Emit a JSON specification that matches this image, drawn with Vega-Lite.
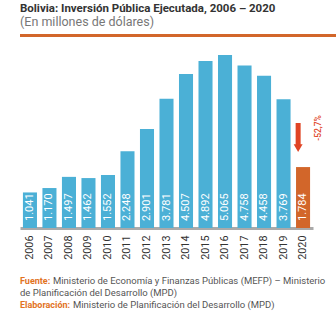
{
  "$schema": "https://vega.github.io/schema/vega-lite/v6.json",
  "padding": {"left": 5, "top": 3, "right": 1, "bottom": 0},
  "background": "white",
  "config": {
    "view": {"stroke": null},
    "font": "Roboto",
    "locale": {"number": {"decimal": ",", "thousands": ".", "grouping": [3], "currency": ["", ""]}},
    "concat": {"spacing": 9}
  },
  "datasets": {
    "inv": [
      {"year": "2006", "value": 1041, "tipo": "a"},
      {"year": "2007", "value": 1170, "tipo": "a"},
      {"year": "2008", "value": 1497, "tipo": "a"},
      {"year": "2009", "value": 1462, "tipo": "a"},
      {"year": "2010", "value": 1552, "tipo": "a"},
      {"year": "2011", "value": 2248, "tipo": "a"},
      {"year": "2012", "value": 2901, "tipo": "a"},
      {"year": "2013", "value": 3781, "tipo": "a"},
      {"year": "2014", "value": 4507, "tipo": "a"},
      {"year": "2015", "value": 4892, "tipo": "a"},
      {"year": "2016", "value": 5065, "tipo": "a"},
      {"year": "2017", "value": 4758, "tipo": "a"},
      {"year": "2018", "value": 4458, "tipo": "a"},
      {"year": "2019", "value": 3769, "tipo": "a"},
      {"year": "2020", "value": 1784, "tipo": "b"}
    ],
    "arrow": [{"year": "2020", "from": 3074, "to": 2420, "head": 2340, "labelpos": 2928, "label": "-52,7%"}],
    "footer": [
      {"line": 1, "label": "Fuente:", "text": "Ministerio de Economía y Finanzas Públicas (MEFP) – Ministerio"},
      {"line": 2, "label": "", "text": "de Planificación del Desarrollo (MPD)"},
      {"line": 3, "label": "Elaboración:", "text": "Ministerio de Planificación del Desarrollo (MPD)"}
    ]
  },
  "vconcat": [
    {
      "title": {
        "text": "Bolivia: Inversión Pública Ejecutada, 2006 – 2020",
        "subtitle": "(En millones de dólares)",
        "anchor": "start",
        "fontSize": 11.5,
        "fontWeight": "bold",
        "color": "#333333",
        "subtitleFontSize": 12.5,
        "subtitleColor": "#777777",
        "subtitlePadding": 1,
        "offset": 4.5
      },
      "width": 330,
      "height": 3,
      "view": {"fill": "#d2662a", "stroke": null},
      "data": {"values": [{"a": 1}]},
      "mark": {"type": "point", "opacity": 0},
      "encoding": {}
    },
    {
      "width": 293,
      "height": 180,
      "data": {"name": "inv"},
      "encoding": {
        "x": {
          "field": "year",
          "type": "ordinal",
          "scale": {"paddingInner": 0.28, "paddingOuter": 0.15},
          "axis": {
            "title": null,
            "labelAngle": -90,
            "labelAlign": "right",
            "labelBaseline": "middle",
            "labelPadding": 7,
            "labelFontSize": 10.8,
            "labelColor": "#333333",
            "ticks": false,
            "domainColor": "#aaaaaa",
            "domainWidth": 3
          }
        }
      },
      "layer": [
        {
          "mark": {"type": "bar"},
          "encoding": {
            "y": {"field": "value", "type": "quantitative", "scale": {"domain": [0, 5270], "nice": false}, "axis": {"title": null, "labels": false, "ticks": false, "domain": false, "grid": false, "minExtent": 15, "maxExtent": 15}},
            "color": {"field": "tipo", "type": "nominal", "scale": {"domain": ["a", "b"], "range": ["#4bb0d6", "#d2662a"]}, "legend": null}
          }
        },
        {
          "mark": {"type": "text", "angle": 270, "align": "left", "baseline": "middle", "dx": 7, "fontSize": 11, "color": "white"},
          "encoding": {
            "y": {"datum": 0, "type": "quantitative"},
            "text": {"field": "value", "type": "quantitative", "format": ",d"}
          }
        },
        {
          "data": {"name": "arrow"},
          "mark": {"type": "rule", "strokeWidth": 5, "color": "#e04424"},
          "encoding": {
            "x": {"field": "year", "type": "ordinal", "bandPosition": 0.15},
            "y": {"field": "from", "type": "quantitative"},
            "y2": {"field": "to"}
          }
        },
        {
          "data": {"name": "arrow"},
          "mark": {"type": "point", "shape": "triangle-down", "filled": true, "size": 80, "opacity": 1, "color": "#e04424"},
          "encoding": {
            "x": {"field": "year", "type": "ordinal", "bandPosition": 0.15},
            "y": {"field": "head", "type": "quantitative"}
          }
        },
        {
          "data": {"name": "arrow"},
          "mark": {"type": "text", "angle": 270, "align": "center", "baseline": "middle", "fontSize": 8.5, "fontWeight": 500, "color": "#e04424"},
          "encoding": {
            "x": {"field": "year", "type": "ordinal", "bandPosition": 1.57},
            "y": {"field": "labelpos", "type": "quantitative"},
            "text": {"field": "label"}
          }
        }
      ]
    },
    {
      "width": 330,
      "height": 48,
      "data": {"name": "footer"},
      "encoding": {
        "y": {"field": "line", "type": "ordinal", "axis": null, "scale": {"type": "point", "padding": 1}},
        "x": {"datum": 0, "type": "quantitative", "scale": {"domain": [0, 1]}, "axis": null}
      },
      "layer": [
        {
          "mark": {"type": "text", "align": "left", "baseline": "middle", "fontSize": 9, "fontWeight": "bold", "color": "#e2731f"},
          "encoding": {"text": {"field": "label"}}
        },
        {
          "transform": [{"filter": "datum.line == 1"}],
          "mark": {"type": "text", "align": "left", "baseline": "middle", "fontSize": 9.5, "color": "#555555", "dx": 33},
          "encoding": {"text": {"field": "text"}}
        },
        {
          "transform": [{"filter": "datum.line == 2"}],
          "mark": {"type": "text", "align": "left", "baseline": "middle", "fontSize": 9.5, "color": "#555555"},
          "encoding": {"text": {"field": "text"}}
        },
        {
          "transform": [{"filter": "datum.line == 3"}],
          "mark": {"type": "text", "align": "left", "baseline": "middle", "fontSize": 9.5, "color": "#555555", "dx": 53},
          "encoding": {"text": {"field": "text"}}
        }
      ]
    }
  ]
}
